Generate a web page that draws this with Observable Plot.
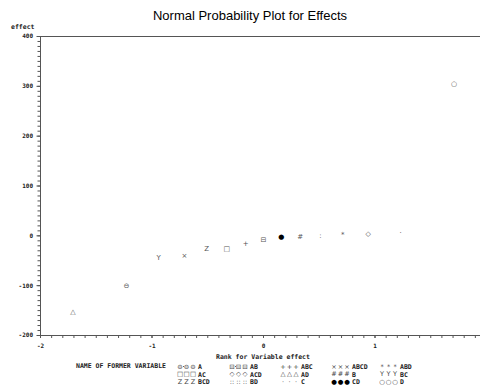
<!DOCTYPE html>
<html><head><meta charset="utf-8">
<script src="https://cdn.jsdelivr.net/npm/d3@7"></script>
<script src="https://cdn.jsdelivr.net/npm/@observablehq/plot@0.6"></script>
<style>
body{margin:0;background:#fff;width:480px;height:389px;overflow:hidden;position:relative;font-family:"DejaVu Sans Mono",monospace;}
#title{position:absolute;left:0;width:500px;top:8px;text-align:center;font:13px "Liberation Sans",Arial,sans-serif;color:#000;}
#chart{position:absolute;left:0;top:0;}
#ylab{position:absolute;left:11px;top:24px;font:bold 6.5px "DejaVu Sans Mono",monospace;color:#222;line-height:7px;}
#xlab{position:absolute;left:0;width:526px;top:353px;text-align:center;font:bold 6.5px "DejaVu Sans Mono",monospace;color:#222;}
#legname{position:absolute;left:76px;top:362px;font:bold 6.5px "DejaVu Sans Mono",monospace;color:#222;}
.lg{position:absolute;font:bold 6.5px "DejaVu Sans Mono",monospace;color:#222;white-space:pre;line-height:8px;}
.sym{position:absolute;width:6px;text-align:center;font:6.5px "DejaVu Sans",sans-serif;color:#444;white-space:pre;line-height:8px;}
.ln{position:absolute;height:0;border-top:1px solid #666;}
</style></head><body>
<div id="title">Normal Probability Plot for Effects</div>
<div id="chart"></div>
<div id="ylab">effect</div>
<div id="xlab">Rank for Variable effect</div>
<div id="legname">NAME OF FORMER VARIABLE</div>
<div id="legend"></div>
<script>
const effectNames = ["AD","A","BC","ABCD","BCD","AC","ABC","AB","CD","B","BD","ABD","ACD","C","D"];
const ranks = [-1.71,-1.23,-0.94,-0.71,-0.51,-0.33,-0.16,0,0.16,0.33,0.51,0.71,0.94,1.23,1.71];
const effects = [-153,-101,-44,-39,-26,-26,-16,-8,-2,-2,0,3,5,7,305];
const legendOrder = ["A","AB","ABC","ABCD","ABD","AC","ACD","AD","B","BC","BCD","BD","C","CD","D"];
const glyphs = {A:"⊖",AB:"⊟",ABC:"+",ABCD:"×",ABD:"*",AC:"□",ACD:"◇",AD:"△",B:"#",BC:"Y",BCD:"Z",BD:":",C:"·",CD:"●",D:"○"};
const yMajor = [-200,-100,0,100,200,300,400];
const xMajor = [-2,-1,0,1];

const data = effectNames.map((n,i)=>({name:n, rank:ranks[i], effect:effects[i], glyph:glyphs[n]}));
const yMinor = d3.range(-200,401,10);
const xMinor = d3.range(-20,21).map(d=>d/10);

const chart = Plot.plot({
  width:480, height:389,
  marginLeft:40, marginRight:-6, marginTop:36, marginBottom:54,
  x:{domain:[-2,2]},
  y:{domain:[-200,400]},
  style:{fontFamily:"DejaVu Sans Mono", fontSize:"6px", fontWeight:"bold", color:"#222", background:"transparent"},
  marks:[
    Plot.frame({stroke:"#555"}),
    Plot.axisY(yMinor,{tickSize:2.5, text:null, label:null, stroke:"#555"}),
    Plot.axisY(yMajor,{tickSize:3.5, tickPadding:4, tickFormat:d=>String(d), label:null, stroke:"#555"}),
    Plot.axisX(xMinor,{tickSize:3, text:null, label:null, stroke:"#555"}),
    Plot.axisX(xMajor,{tickSize:3, tickPadding:5, tickFormat:d=>String(d), label:null, stroke:"#555"}),
    Plot.text(data,{x:"rank", y:"effect", text:"glyph", fontSize:7, fontWeight:"normal", fontFamily:"DejaVu Sans", fill:d=>d.name==="CD"?"#000":"#555"})
  ]
});
document.getElementById("chart").appendChild(chart);

const leg = document.getElementById("legend");
const colX = [177,229,280,331,379];
const rowY = [362,369.5,377];
legendOrder.forEach((n,i)=>{
  const c=i%5, r=Math.floor(i/5);
  const g=glyphs[n];
  if(n==="A"||n==="AB"){
    const l=document.createElement("div");
    l.className="ln"; l.style.left=(colX[c]+2)+"px"; l.style.width="13px"; l.style.top=(rowY[r]+4)+"px";
    leg.appendChild(l);
  }
  for(let k=0;k<3;k++){
    const s=document.createElement("div");
    s.className="sym";
    s.textContent=n==="BD"?"::":g;
    s.style.left=(colX[c]+k*6.5)+"px"; s.style.top=(rowY[r]+0.5)+"px";
    if(n==="CD") s.style.color="#000";
    if(n==="A"||n==="AB") s.style.background="#fff";
    leg.appendChild(s);
  }
  const t=document.createElement("div");
  t.className="lg"; t.textContent=n;
  t.style.left=(colX[c]+21)+"px"; t.style.top=(rowY[r]+1)+"px";
  leg.appendChild(t);
});
</script>
</body></html>
